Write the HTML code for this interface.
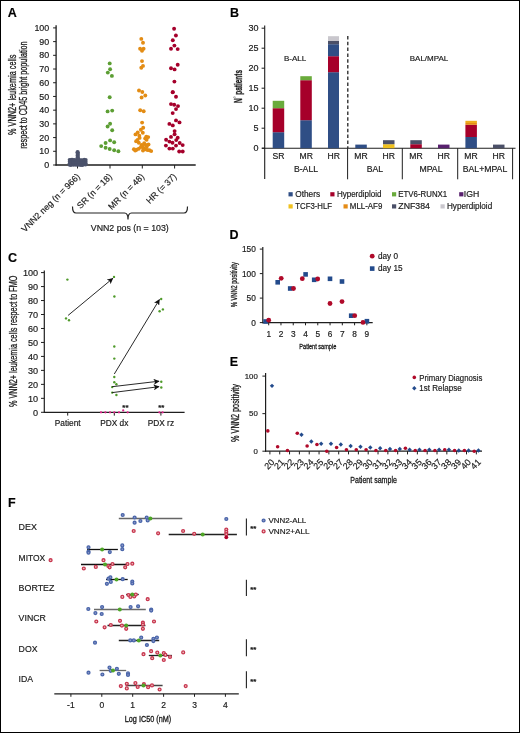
<!DOCTYPE html>
<html><head><meta charset="utf-8"><style>
html,body{margin:0;padding:0;background:#fff;}
body{width:520px;height:733px;overflow:hidden;}
svg{display:block;font-family:"Liberation Sans", sans-serif;will-change:transform;}
text:not([stroke]){stroke:#1a1a1a;stroke-width:0.18px;}
</style></head><body>
<svg width="520" height="733" viewBox="0 0 520 733" fill="#1a1a1a">
<rect x="0.5" y="0.5" width="519" height="732" fill="#fff" stroke="#000" stroke-width="1"/>
<text x="7.7" y="16.8" font-size="12.5" font-weight="bold" fill="#000">A</text>
<text x="230" y="17" font-size="12.5" font-weight="bold" fill="#000">B</text>
<text x="8" y="261.6" font-size="12.5" font-weight="bold" fill="#000">C</text>
<text x="229.4" y="238.7" font-size="12.5" font-weight="bold" fill="#000">D</text>
<text x="229.7" y="365.7" font-size="12.5" font-weight="bold" fill="#000">E</text>
<text x="8" y="507" font-size="12.5" font-weight="bold" fill="#000">F</text>
<line x1="56.1" y1="25.2" x2="56.1" y2="165.6" stroke="#1e1e1e" stroke-width="1.3" />
<line x1="55.5" y1="165" x2="195.7" y2="165" stroke="#1e1e1e" stroke-width="1.3" />
<line x1="53.1" y1="165.0" x2="56.1" y2="165.0" stroke="#1e1e1e" stroke-width="1" />
<text x="49.2" y="168.1" font-size="8.9" text-anchor="end">0</text>
<line x1="53.1" y1="151.29" x2="56.1" y2="151.29" stroke="#1e1e1e" stroke-width="1" />
<text x="49.2" y="154.39" font-size="8.9" text-anchor="end">10</text>
<line x1="53.1" y1="137.58" x2="56.1" y2="137.58" stroke="#1e1e1e" stroke-width="1" />
<text x="49.2" y="140.68" font-size="8.9" text-anchor="end">20</text>
<line x1="53.1" y1="123.87" x2="56.1" y2="123.87" stroke="#1e1e1e" stroke-width="1" />
<text x="49.2" y="126.97" font-size="8.9" text-anchor="end">30</text>
<line x1="53.1" y1="110.16" x2="56.1" y2="110.16" stroke="#1e1e1e" stroke-width="1" />
<text x="49.2" y="113.26" font-size="8.9" text-anchor="end">40</text>
<line x1="53.1" y1="96.45" x2="56.1" y2="96.45" stroke="#1e1e1e" stroke-width="1" />
<text x="49.2" y="99.55" font-size="8.9" text-anchor="end">50</text>
<line x1="53.1" y1="82.74" x2="56.1" y2="82.74" stroke="#1e1e1e" stroke-width="1" />
<text x="49.2" y="85.84" font-size="8.9" text-anchor="end">60</text>
<line x1="53.1" y1="69.03" x2="56.1" y2="69.03" stroke="#1e1e1e" stroke-width="1" />
<text x="49.2" y="72.13" font-size="8.9" text-anchor="end">70</text>
<line x1="53.1" y1="55.32" x2="56.1" y2="55.32" stroke="#1e1e1e" stroke-width="1" />
<text x="49.2" y="58.42" font-size="8.9" text-anchor="end">80</text>
<line x1="53.1" y1="41.61" x2="56.1" y2="41.61" stroke="#1e1e1e" stroke-width="1" />
<text x="49.2" y="44.71" font-size="8.9" text-anchor="end">90</text>
<line x1="53.1" y1="27.9" x2="56.1" y2="27.9" stroke="#1e1e1e" stroke-width="1" />
<text x="49.2" y="31.0" font-size="8.9" text-anchor="end">100</text>
<line x1="77.5" y1="165" x2="77.5" y2="168.5" stroke="#1e1e1e" stroke-width="1" />
<line x1="110" y1="165" x2="110" y2="168.5" stroke="#1e1e1e" stroke-width="1" />
<line x1="142.3" y1="165" x2="142.3" y2="168.5" stroke="#1e1e1e" stroke-width="1" />
<line x1="174.6" y1="165" x2="174.6" y2="168.5" stroke="#1e1e1e" stroke-width="1" />
<text x="16.3" y="94.8" font-size="10.2" text-anchor="middle" textLength="80.4" lengthAdjust="spacingAndGlyphs" transform="rotate(-90 16.3 94.8)" stroke="#1a1a1a" stroke-width="0.3">% VNN2+ leukemia cells</text>
<text x="27.3" y="95.1" font-size="10" text-anchor="middle" textLength="107.4" lengthAdjust="spacingAndGlyphs" transform="rotate(-90 27.3 95.1)" stroke="#1a1a1a" stroke-width="0.3">respect to CD45 bright population</text>
<text x="80.5" y="177.2" font-size="8.8" text-anchor="end" transform="rotate(-45 80.5 177.2)">VNN2 neg (n = 966)</text>
<text x="112.5" y="177.2" font-size="8.8" text-anchor="end" transform="rotate(-45 112.5 177.2)">SR (n = 18)</text>
<text x="144.8" y="177.2" font-size="8.8" text-anchor="end" transform="rotate(-45 144.8 177.2)">MR (n = 48)</text>
<text x="177" y="177.2" font-size="8.8" text-anchor="end" transform="rotate(-45 177 177.2)">HR (= 37)</text>
<path d="M72.5,206.5 Q72.5,213 76,213 L124.5,213 Q128,213 128,219.5 Q128,213 131.5,213 L184,213 Q187.5,213 187.5,206.5" fill="none" stroke="#222" stroke-width="1.2"/>
<text x="129.8" y="231.2" font-size="8.6" text-anchor="middle" textLength="78" lengthAdjust="spacingAndGlyphs">VNN2 pos (n = 103)</text>
<g fill="#4b526b">
<rect x="69.2" y="159.4" width="17" height="6" />
<circle cx="69.44" cy="159.83" r="1.75" fill="#4b526b" />
<circle cx="69.52" cy="164.97" r="1.75" fill="#4b526b" />
<circle cx="71.28" cy="159.5" r="1.75" fill="#4b526b" />
<circle cx="70.91" cy="165.14" r="1.75" fill="#4b526b" />
<circle cx="72.66" cy="159.61" r="1.75" fill="#4b526b" />
<circle cx="73.1" cy="164.88" r="1.75" fill="#4b526b" />
<circle cx="74.6" cy="159.78" r="1.75" fill="#4b526b" />
<circle cx="74.48" cy="164.66" r="1.75" fill="#4b526b" />
<circle cx="76.08" cy="160.06" r="1.75" fill="#4b526b" />
<circle cx="76.01" cy="165.07" r="1.75" fill="#4b526b" />
<circle cx="77.7" cy="159.49" r="1.75" fill="#4b526b" />
<circle cx="77.75" cy="164.96" r="1.75" fill="#4b526b" />
<circle cx="79.08" cy="159.47" r="1.75" fill="#4b526b" />
<circle cx="79.42" cy="164.88" r="1.75" fill="#4b526b" />
<circle cx="80.93" cy="160.07" r="1.75" fill="#4b526b" />
<circle cx="80.93" cy="165.19" r="1.75" fill="#4b526b" />
<circle cx="82.34" cy="160.01" r="1.75" fill="#4b526b" />
<circle cx="82.37" cy="165.2" r="1.75" fill="#4b526b" />
<circle cx="84.23" cy="159.52" r="1.75" fill="#4b526b" />
<circle cx="83.78" cy="164.7" r="1.75" fill="#4b526b" />
<circle cx="85.88" cy="159.76" r="1.75" fill="#4b526b" />
<circle cx="85.68" cy="164.76" r="1.75" fill="#4b526b" />
<circle cx="69.55" cy="161.6" r="1.75" fill="#4b526b" />
<circle cx="85.79" cy="161.6" r="1.75" fill="#4b526b" />
<circle cx="69.48" cy="163.2" r="1.75" fill="#4b526b" />
<circle cx="85.89" cy="163.2" r="1.75" fill="#4b526b" />
<circle cx="77.64" cy="152.2" r="2.15" fill="#4b526b" />
<circle cx="77.8" cy="154" r="2.15" fill="#4b526b" />
<circle cx="77.69" cy="155.8" r="2.15" fill="#4b526b" />
<circle cx="77.81" cy="157.6" r="2.15" fill="#4b526b" />
</g>
<circle cx="109.7" cy="63.4" r="1.95" fill="#5c9e33" />
<circle cx="110.1" cy="69.3" r="1.95" fill="#5c9e33" />
<circle cx="107.8" cy="72.6" r="1.95" fill="#5c9e33" />
<circle cx="111.9" cy="75.9" r="1.95" fill="#5c9e33" />
<circle cx="109.7" cy="97.2" r="1.95" fill="#5c9e33" />
<circle cx="107.6" cy="111.4" r="1.95" fill="#5c9e33" />
<circle cx="112.2" cy="110.6" r="1.95" fill="#5c9e33" />
<circle cx="110.1" cy="123.7" r="1.95" fill="#5c9e33" />
<circle cx="107.6" cy="126.5" r="1.95" fill="#5c9e33" />
<circle cx="112.2" cy="130.2" r="1.95" fill="#5c9e33" />
<circle cx="110.1" cy="140.4" r="1.95" fill="#5c9e33" />
<circle cx="114.2" cy="142.2" r="1.95" fill="#5c9e33" />
<circle cx="105.6" cy="143" r="1.95" fill="#5c9e33" />
<circle cx="101.2" cy="146.1" r="1.95" fill="#5c9e33" />
<circle cx="105.6" cy="147.7" r="1.95" fill="#5c9e33" />
<circle cx="109.7" cy="149" r="1.95" fill="#5c9e33" />
<circle cx="114.2" cy="150.2" r="1.95" fill="#5c9e33" />
<circle cx="118.4" cy="151.2" r="1.95" fill="#5c9e33" />
<circle cx="141.3" cy="38.9" r="1.95" fill="#e38c14" />
<circle cx="143" cy="42.7" r="1.95" fill="#e38c14" />
<circle cx="140.1" cy="48.7" r="1.95" fill="#e38c14" />
<circle cx="143.6" cy="48.7" r="1.95" fill="#e38c14" />
<circle cx="142" cy="50.8" r="1.95" fill="#e38c14" />
<circle cx="142" cy="61.1" r="1.95" fill="#e38c14" />
<circle cx="143" cy="65.9" r="1.95" fill="#e38c14" />
<circle cx="141.3" cy="67.7" r="1.95" fill="#e38c14" />
<circle cx="139" cy="90.5" r="1.95" fill="#e38c14" />
<circle cx="142.3" cy="92" r="1.95" fill="#e38c14" />
<circle cx="141.6" cy="97.5" r="1.95" fill="#e38c14" />
<circle cx="145.3" cy="95.5" r="1.95" fill="#e38c14" />
<circle cx="140.2" cy="110.3" r="1.95" fill="#e38c14" />
<circle cx="143.7" cy="111.2" r="1.95" fill="#e38c14" />
<circle cx="142.1" cy="122.6" r="1.95" fill="#e38c14" />
<circle cx="143.2" cy="127.7" r="1.95" fill="#e38c14" />
<circle cx="140.9" cy="129.8" r="1.95" fill="#e38c14" />
<circle cx="142.8" cy="132.8" r="1.95" fill="#e38c14" />
<circle cx="137.7" cy="132.5" r="1.95" fill="#e38c14" />
<circle cx="135.5" cy="134.4" r="1.95" fill="#e38c14" />
<circle cx="139.3" cy="135.8" r="1.95" fill="#e38c14" />
<circle cx="139.6" cy="137.9" r="1.95" fill="#e38c14" />
<circle cx="146.3" cy="136.8" r="1.95" fill="#e38c14" />
<circle cx="148.2" cy="137.1" r="1.95" fill="#e38c14" />
<circle cx="145.2" cy="138.5" r="1.95" fill="#e38c14" />
<circle cx="146.6" cy="139.8" r="1.95" fill="#e38c14" />
<circle cx="136.1" cy="141.2" r="1.95" fill="#e38c14" />
<circle cx="138.8" cy="142.8" r="1.95" fill="#e38c14" />
<circle cx="141.5" cy="144.9" r="1.95" fill="#e38c14" />
<circle cx="144.2" cy="143.3" r="1.95" fill="#e38c14" />
<circle cx="145.8" cy="144.9" r="1.95" fill="#e38c14" />
<circle cx="148.5" cy="144.4" r="1.95" fill="#e38c14" />
<circle cx="133.9" cy="149.2" r="1.95" fill="#e38c14" />
<circle cx="136.6" cy="149.8" r="1.95" fill="#e38c14" />
<circle cx="138.8" cy="148.7" r="1.95" fill="#e38c14" />
<circle cx="140.9" cy="147.1" r="1.95" fill="#e38c14" />
<circle cx="143.6" cy="148.2" r="1.95" fill="#e38c14" />
<circle cx="145.2" cy="149.2" r="1.95" fill="#e38c14" />
<circle cx="147.4" cy="150" r="1.95" fill="#e38c14" />
<circle cx="149.5" cy="150.3" r="1.95" fill="#e38c14" />
<circle cx="151.2" cy="151.1" r="1.95" fill="#e38c14" />
<circle cx="146.8" cy="146.5" r="1.95" fill="#e38c14" />
<circle cx="142.5" cy="146" r="1.95" fill="#e38c14" />
<circle cx="137.5" cy="140" r="1.95" fill="#e38c14" />
<circle cx="143" cy="150.5" r="1.95" fill="#e38c14" />
<circle cx="135.2" cy="150.5" r="1.95" fill="#e38c14" />
<circle cx="174.1" cy="28.7" r="1.95" fill="#a5002b" />
<circle cx="175.9" cy="35.5" r="1.95" fill="#a5002b" />
<circle cx="172.8" cy="40.2" r="1.95" fill="#a5002b" />
<circle cx="174.4" cy="45.6" r="1.95" fill="#a5002b" />
<circle cx="171" cy="48.8" r="1.95" fill="#a5002b" />
<circle cx="177.7" cy="49.1" r="1.95" fill="#a5002b" />
<circle cx="177.7" cy="64.7" r="1.95" fill="#a5002b" />
<circle cx="171" cy="68.2" r="1.95" fill="#a5002b" />
<circle cx="174.6" cy="69.4" r="1.95" fill="#a5002b" />
<circle cx="174.4" cy="81.6" r="1.95" fill="#a5002b" />
<circle cx="172.8" cy="92.1" r="1.95" fill="#a5002b" />
<circle cx="172.7" cy="92.2" r="1.95" fill="#a5002b" />
<circle cx="176" cy="96.8" r="1.95" fill="#a5002b" />
<circle cx="171" cy="104.1" r="1.95" fill="#a5002b" />
<circle cx="174.2" cy="104.7" r="1.95" fill="#a5002b" />
<circle cx="178" cy="106.1" r="1.95" fill="#a5002b" />
<circle cx="176" cy="109.1" r="1.95" fill="#a5002b" />
<circle cx="172.7" cy="113.1" r="1.95" fill="#a5002b" />
<circle cx="176" cy="120.4" r="1.95" fill="#a5002b" />
<circle cx="179.5" cy="122.4" r="1.95" fill="#a5002b" />
<circle cx="169.4" cy="123.9" r="1.95" fill="#a5002b" />
<circle cx="172.8" cy="125.4" r="1.95" fill="#a5002b" />
<circle cx="174.6" cy="131.1" r="1.95" fill="#a5002b" />
<circle cx="174.6" cy="134.3" r="1.95" fill="#a5002b" />
<circle cx="171" cy="136.9" r="1.95" fill="#a5002b" />
<circle cx="177.7" cy="137.8" r="1.95" fill="#a5002b" />
<circle cx="166.1" cy="139.8" r="1.95" fill="#a5002b" />
<circle cx="176.2" cy="140.1" r="1.95" fill="#a5002b" />
<circle cx="169.4" cy="141.6" r="1.95" fill="#a5002b" />
<circle cx="172.5" cy="142.7" r="1.95" fill="#a5002b" />
<circle cx="179.7" cy="143" r="1.95" fill="#a5002b" />
<circle cx="182.7" cy="145.1" r="1.95" fill="#a5002b" />
<circle cx="165.9" cy="145.6" r="1.95" fill="#a5002b" />
<circle cx="176" cy="145.6" r="1.95" fill="#a5002b" />
<circle cx="169.4" cy="148.6" r="1.95" fill="#a5002b" />
<circle cx="172.8" cy="148.6" r="1.95" fill="#a5002b" />
<circle cx="179.2" cy="151.5" r="1.95" fill="#a5002b" />
<circle cx="182.7" cy="151.5" r="1.95" fill="#a5002b" />
<line x1="264.7" y1="25.5" x2="264.7" y2="179" stroke="#1e1e1e" stroke-width="1.1" />
<line x1="262" y1="148.2" x2="515.5" y2="148.2" stroke="#1e1e1e" stroke-width="1.1" />
<line x1="261.6" y1="148.2" x2="264.7" y2="148.2" stroke="#1e1e1e" stroke-width="1" />
<text x="258.4" y="151.3" font-size="9" text-anchor="end">0</text>
<line x1="261.6" y1="128.2" x2="264.7" y2="128.2" stroke="#1e1e1e" stroke-width="1" />
<text x="258.4" y="131.3" font-size="9" text-anchor="end">5</text>
<line x1="261.6" y1="108.2" x2="264.7" y2="108.2" stroke="#1e1e1e" stroke-width="1" />
<text x="258.4" y="111.3" font-size="9" text-anchor="end">10</text>
<line x1="261.6" y1="88.2" x2="264.7" y2="88.2" stroke="#1e1e1e" stroke-width="1" />
<text x="258.4" y="91.3" font-size="9" text-anchor="end">15</text>
<line x1="261.6" y1="68.2" x2="264.7" y2="68.2" stroke="#1e1e1e" stroke-width="1" />
<text x="258.4" y="71.3" font-size="9" text-anchor="end">20</text>
<line x1="261.6" y1="48.2" x2="264.7" y2="48.2" stroke="#1e1e1e" stroke-width="1" />
<text x="258.4" y="51.3" font-size="9" text-anchor="end">25</text>
<line x1="261.6" y1="28.2" x2="264.7" y2="28.2" stroke="#1e1e1e" stroke-width="1" />
<text x="258.4" y="31.3" font-size="9" text-anchor="end">30</text>
<line x1="347.8" y1="36" x2="347.8" y2="148" stroke="#222" stroke-width="1.3" stroke-dasharray="3.5,2.3"/>
<line x1="347.6" y1="148.2" x2="347.6" y2="179.3" stroke="#1e1e1e" stroke-width="1" />
<line x1="402.3" y1="148.2" x2="402.3" y2="179.3" stroke="#1e1e1e" stroke-width="1" />
<line x1="457.7" y1="148.2" x2="457.7" y2="179.3" stroke="#1e1e1e" stroke-width="1" />
<line x1="512.6" y1="148.2" x2="512.6" y2="179.3" stroke="#1e1e1e" stroke-width="1" />
<text x="242" y="86.5" font-size="10.2" text-anchor="middle" font-weight="bold" stroke="#1a1a1a" stroke-width="0.3" textLength="33" lengthAdjust="spacingAndGlyphs" transform="rotate(-90 242 86.5)">N<tspan fill="#808080" stroke="none" dy="-3.4" font-size="7.5">°</tspan><tspan dy="3.2"> patients</tspan></text>
<text x="295" y="61" font-size="8" text-anchor="middle">B-ALL</text>
<text x="429" y="61" font-size="8" text-anchor="middle">BAL/MPAL</text>
<rect x="272.7" y="132.2" width="11.5" height="16.0" fill="#2f4e85" />
<rect x="272.7" y="108.2" width="11.5" height="24.0" fill="#a6002a" />
<rect x="272.7" y="100.8" width="11.5" height="7.4" fill="#6aab3c" />
<rect x="300.3" y="120.2" width="11.5" height="28.0" fill="#2f4e85" />
<rect x="300.3" y="80.2" width="11.5" height="40.0" fill="#a6002a" />
<rect x="300.3" y="76.2" width="11.5" height="4.0" fill="#6aab3c" />
<rect x="328" y="72.2" width="11" height="76.0" fill="#2f4e85" />
<rect x="328" y="56.2" width="11" height="16.0" fill="#a6002a" />
<rect x="328" y="44.2" width="11" height="12.0" fill="#2f4e85" />
<rect x="328" y="41.0" width="11" height="3.2" fill="#4b5068" />
<rect x="328" y="36.2" width="11" height="4.8" fill="#c9c7cd" />
<rect x="355.3" y="144.6" width="11.5" height="3.6" fill="#2f4e85" />
<rect x="383" y="144.2" width="11.5" height="4.0" fill="#f0c11e" />
<rect x="383" y="140.2" width="11.5" height="4.0" fill="#4b5068" />
<rect x="410.3" y="144.2" width="11.5" height="4.0" fill="#a6002a" />
<rect x="410.3" y="140.2" width="11.5" height="4.0" fill="#4b5068" />
<rect x="438" y="144.6" width="11.5" height="3.6" fill="#58206e" />
<rect x="465.4" y="137.0" width="11.5" height="11.2" fill="#2f4e85" />
<rect x="465.4" y="124.8" width="11.5" height="12.2" fill="#a6002a" />
<rect x="465.4" y="123.0" width="11.5" height="1.8" fill="#e58c16" />
<rect x="465.4" y="120.8" width="11.5" height="2.2" fill="#eeac1e" />
<rect x="493" y="144.6" width="11.5" height="3.6" fill="#4b5068" />
<text x="278.6" y="158.9" font-size="8.6" text-anchor="middle">SR</text>
<text x="306.2" y="158.9" font-size="8.6" text-anchor="middle">MR</text>
<text x="333.8" y="158.9" font-size="8.6" text-anchor="middle">HR</text>
<text x="361" y="158.9" font-size="8.6" text-anchor="middle">MR</text>
<text x="388.7" y="158.9" font-size="8.6" text-anchor="middle">HR</text>
<text x="416" y="158.9" font-size="8.6" text-anchor="middle">MR</text>
<text x="443.7" y="158.9" font-size="8.6" text-anchor="middle">HR</text>
<text x="471" y="158.9" font-size="8.6" text-anchor="middle">MR</text>
<text x="498.7" y="158.9" font-size="8.6" text-anchor="middle">HR</text>
<text x="306" y="172.2" font-size="8.7" text-anchor="middle">B-ALL</text>
<text x="375" y="172.2" font-size="8.7" text-anchor="middle">BAL</text>
<text x="431" y="172.2" font-size="8.7" text-anchor="middle">MPAL</text>
<text x="485" y="172.2" font-size="8.7" text-anchor="middle">BAL+MPAL</text>
<rect x="288.5" y="192.2" width="4.2" height="4.2" fill="#2f4e85" />
<text x="295.3" y="196.5" font-size="8.2" textLength="24.8" lengthAdjust="spacingAndGlyphs">Others</text>
<rect x="330.3" y="192.2" width="4.2" height="4.2" fill="#a6002a" />
<text x="336.9" y="196.5" font-size="8.2" textLength="44.5" lengthAdjust="spacingAndGlyphs">Hyperdiploid</text>
<rect x="392" y="192.2" width="4.2" height="4.2" fill="#6aab3c" />
<text x="398.3" y="196.5" font-size="8.2" textLength="48.9" lengthAdjust="spacingAndGlyphs">ETV6-RUNX1</text>
<rect x="459.2" y="192.2" width="4.2" height="4.2" fill="#58206e" />
<text x="463.8" y="196.5" font-size="8.2" textLength="15.5" lengthAdjust="spacingAndGlyphs">IGH</text>
<rect x="288.5" y="204.3" width="4.2" height="4.2" fill="#f0c11e" />
<text x="295.3" y="208.6" font-size="8.2" textLength="36.8" lengthAdjust="spacingAndGlyphs">TCF3-HLF</text>
<rect x="343.5" y="204.3" width="4.2" height="4.2" fill="#e58c16" />
<text x="349.8" y="208.6" font-size="8.2" textLength="32.5" lengthAdjust="spacingAndGlyphs">MLL-AF9</text>
<rect x="392" y="204.3" width="4.2" height="4.2" fill="#4b5068" />
<text x="398.3" y="208.6" font-size="8.2" textLength="31.6" lengthAdjust="spacingAndGlyphs">ZNF384</text>
<rect x="440.5" y="204.3" width="4.2" height="4.2" fill="#c9c7cd" />
<text x="447.0" y="208.6" font-size="8.2" textLength="45.2" lengthAdjust="spacingAndGlyphs">Hyperdiploid</text>
<line x1="44.3" y1="270.4" x2="44.3" y2="412.8" stroke="#1e1e1e" stroke-width="1.2" />
<line x1="43.8" y1="412.3" x2="184.6" y2="412.3" stroke="#1e1e1e" stroke-width="1.2" />
<line x1="41" y1="412.3" x2="44.3" y2="412.3" stroke="#1e1e1e" stroke-width="1" />
<text x="38.1" y="415.5" font-size="9.1" text-anchor="end">0</text>
<line x1="41" y1="398.33" x2="44.3" y2="398.33" stroke="#1e1e1e" stroke-width="1" />
<text x="38.1" y="401.53" font-size="9.1" text-anchor="end">10</text>
<line x1="41" y1="384.36" x2="44.3" y2="384.36" stroke="#1e1e1e" stroke-width="1" />
<text x="38.1" y="387.56" font-size="9.1" text-anchor="end">20</text>
<line x1="41" y1="370.39" x2="44.3" y2="370.39" stroke="#1e1e1e" stroke-width="1" />
<text x="38.1" y="373.59" font-size="9.1" text-anchor="end">30</text>
<line x1="41" y1="356.42" x2="44.3" y2="356.42" stroke="#1e1e1e" stroke-width="1" />
<text x="38.1" y="359.62" font-size="9.1" text-anchor="end">40</text>
<line x1="41" y1="342.45" x2="44.3" y2="342.45" stroke="#1e1e1e" stroke-width="1" />
<text x="38.1" y="345.65" font-size="9.1" text-anchor="end">50</text>
<line x1="41" y1="328.48" x2="44.3" y2="328.48" stroke="#1e1e1e" stroke-width="1" />
<text x="38.1" y="331.68" font-size="9.1" text-anchor="end">60</text>
<line x1="41" y1="314.51" x2="44.3" y2="314.51" stroke="#1e1e1e" stroke-width="1" />
<text x="38.1" y="317.71" font-size="9.1" text-anchor="end">70</text>
<line x1="41" y1="300.54" x2="44.3" y2="300.54" stroke="#1e1e1e" stroke-width="1" />
<text x="38.1" y="303.74" font-size="9.1" text-anchor="end">80</text>
<line x1="41" y1="286.57" x2="44.3" y2="286.57" stroke="#1e1e1e" stroke-width="1" />
<text x="38.1" y="289.77" font-size="9.1" text-anchor="end">90</text>
<line x1="41" y1="272.6" x2="44.3" y2="272.6" stroke="#1e1e1e" stroke-width="1" />
<text x="38.1" y="275.8" font-size="9.1" text-anchor="end">100</text>
<line x1="67.7" y1="412.3" x2="67.7" y2="415.6" stroke="#1e1e1e" stroke-width="1" />
<line x1="114.3" y1="412.3" x2="114.3" y2="415.6" stroke="#1e1e1e" stroke-width="1" />
<line x1="160.9" y1="412.3" x2="160.9" y2="415.6" stroke="#1e1e1e" stroke-width="1" />
<text x="17" y="341.3" font-size="11" text-anchor="middle" textLength="131.3" lengthAdjust="spacingAndGlyphs" transform="rotate(-90 17 341.3)" stroke="#1a1a1a" stroke-width="0.3">% VNN2+ leukemia cells respect to FMO</text>
<text x="67.7" y="426.4" font-size="8.3" text-anchor="middle">Patient</text>
<text x="114.3" y="426.4" font-size="8.3" text-anchor="middle">PDX dx</text>
<text x="160.9" y="426.4" font-size="8.3" text-anchor="middle">PDX rz</text>
<circle cx="67.4" cy="279.6" r="1.2" fill="#4f9a2a" />
<circle cx="66" cy="318.4" r="1.2" fill="#4f9a2a" />
<circle cx="69" cy="320.2" r="1.2" fill="#4f9a2a" />
<circle cx="114" cy="276.9" r="1.2" fill="#4f9a2a" />
<circle cx="114.4" cy="296.5" r="1.2" fill="#4f9a2a" />
<circle cx="114.3" cy="346.5" r="1.2" fill="#4f9a2a" />
<circle cx="114.3" cy="358.6" r="1.2" fill="#4f9a2a" />
<circle cx="114.3" cy="377" r="1.2" fill="#4f9a2a" />
<circle cx="114.3" cy="382.3" r="1.2" fill="#4f9a2a" />
<circle cx="116.4" cy="384.2" r="1.2" fill="#4f9a2a" />
<circle cx="112.2" cy="387.1" r="1.2" fill="#4f9a2a" />
<circle cx="112.2" cy="392.6" r="1.2" fill="#4f9a2a" />
<circle cx="116.4" cy="395" r="1.2" fill="#4f9a2a" />
<circle cx="161.2" cy="299" r="1.2" fill="#4f9a2a" />
<circle cx="159.6" cy="311.2" r="1.2" fill="#4f9a2a" />
<circle cx="162.9" cy="309.4" r="1.2" fill="#4f9a2a" />
<circle cx="161.3" cy="381.8" r="1.2" fill="#4f9a2a" />
<circle cx="161.3" cy="387.5" r="1.2" fill="#4f9a2a" />
<circle cx="101" cy="412.3" r="1.1" fill="#e0208a" />
<circle cx="105.4" cy="412.3" r="1.1" fill="#e0208a" />
<circle cx="110" cy="412.3" r="1.1" fill="#e0208a" />
<circle cx="114.3" cy="412.3" r="1.1" fill="#e0208a" />
<circle cx="119" cy="412.3" r="1.1" fill="#e0208a" />
<circle cx="127.7" cy="412.3" r="1.1" fill="#e0208a" />
<circle cx="159.4" cy="412.3" r="1.1" fill="#e0208a" />
<circle cx="162.6" cy="412.3" r="1.1" fill="#e0208a" />
<circle cx="123.2" cy="410.4" r="1.1" fill="#e0208a" />
<text x="125.4" y="409.9" font-size="7.8" text-anchor="middle" font-weight="bold" fill="#111">**</text>
<text x="161.3" y="409.9" font-size="7.8" text-anchor="middle" font-weight="bold" fill="#111">**</text>
<defs><marker id="ah" viewBox="0 0 10 10" refX="9" refY="5" markerWidth="6" markerHeight="6" markerUnits="userSpaceOnUse" orient="auto"><path d="M0,0 L10,5 L0,10 L2.5,5 Z" fill="#111"/></marker></defs>
<line x1="68.1" y1="315.4" x2="112.8" y2="278.4" stroke="#111" stroke-width="0.9" marker-end="url(#ah)"/>
<line x1="114.3" y1="374" x2="159.4" y2="299.6" stroke="#111" stroke-width="0.9" marker-end="url(#ah)"/>
<line x1="112.2" y1="386.7" x2="159" y2="381.2" stroke="#111" stroke-width="0.9" marker-end="url(#ah)"/>
<line x1="112.2" y1="392.6" x2="159" y2="386.7" stroke="#111" stroke-width="0.9" marker-end="url(#ah)"/>
<line x1="262.8" y1="247" x2="262.8" y2="323.2" stroke="#1e1e1e" stroke-width="1.2" />
<line x1="262.2" y1="322.6" x2="372.7" y2="322.6" stroke="#1e1e1e" stroke-width="1.2" />
<line x1="259.8" y1="322.6" x2="262.8" y2="322.6" stroke="#1e1e1e" stroke-width="1" />
<text x="255.8" y="325.5" font-size="8.3" text-anchor="end">0</text>
<line x1="259.8" y1="298.1" x2="262.8" y2="298.1" stroke="#1e1e1e" stroke-width="1" />
<text x="255.8" y="301.0" font-size="8.3" text-anchor="end">50</text>
<line x1="259.8" y1="273.6" x2="262.8" y2="273.6" stroke="#1e1e1e" stroke-width="1" />
<text x="255.8" y="276.5" font-size="8.3" text-anchor="end">100</text>
<line x1="259.8" y1="249.1" x2="262.8" y2="249.1" stroke="#1e1e1e" stroke-width="1" />
<text x="255.8" y="252.0" font-size="8.3" text-anchor="end">150</text>
<line x1="268.7" y1="322.6" x2="268.7" y2="325.3" stroke="#1e1e1e" stroke-width="1" />
<text x="268.7" y="336.5" font-size="8.3" text-anchor="middle">1</text>
<line x1="280.97" y1="322.6" x2="280.97" y2="325.3" stroke="#1e1e1e" stroke-width="1" />
<text x="280.97" y="336.5" font-size="8.3" text-anchor="middle">2</text>
<line x1="293.24" y1="322.6" x2="293.24" y2="325.3" stroke="#1e1e1e" stroke-width="1" />
<text x="293.24" y="336.5" font-size="8.3" text-anchor="middle">3</text>
<line x1="305.51" y1="322.6" x2="305.51" y2="325.3" stroke="#1e1e1e" stroke-width="1" />
<text x="305.51" y="336.5" font-size="8.3" text-anchor="middle">4</text>
<line x1="317.78" y1="322.6" x2="317.78" y2="325.3" stroke="#1e1e1e" stroke-width="1" />
<text x="317.78" y="336.5" font-size="8.3" text-anchor="middle">5</text>
<line x1="330.05" y1="322.6" x2="330.05" y2="325.3" stroke="#1e1e1e" stroke-width="1" />
<text x="330.05" y="336.5" font-size="8.3" text-anchor="middle">6</text>
<line x1="342.32" y1="322.6" x2="342.32" y2="325.3" stroke="#1e1e1e" stroke-width="1" />
<text x="342.32" y="336.5" font-size="8.3" text-anchor="middle">7</text>
<line x1="354.59" y1="322.6" x2="354.59" y2="325.3" stroke="#1e1e1e" stroke-width="1" />
<text x="354.59" y="336.5" font-size="8.3" text-anchor="middle">8</text>
<line x1="366.86" y1="322.6" x2="366.86" y2="325.3" stroke="#1e1e1e" stroke-width="1" />
<text x="366.86" y="336.5" font-size="8.3" text-anchor="middle">9</text>
<text x="236.6" y="284.6" font-size="8.2" text-anchor="middle" textLength="44.7" lengthAdjust="spacingAndGlyphs" transform="rotate(-90 236.6 284.6)" stroke="#1a1a1a" stroke-width="0.3">% VNN2 positivity</text>
<text x="317.8" y="348.7" font-size="7.7" text-anchor="middle" textLength="37" lengthAdjust="spacingAndGlyphs" stroke="#1a1a1a" stroke-width="0.3">Patient sample</text>
<rect x="263.3" y="319.2" width="4.6" height="4.6" fill="#234b8c" />
<rect x="275.4" y="280.0" width="4.6" height="4.6" fill="#234b8c" />
<rect x="287.9" y="286.2" width="4.6" height="4.6" fill="#234b8c" />
<rect x="303.3" y="272.1" width="4.6" height="4.6" fill="#234b8c" />
<rect x="311.9" y="277.5" width="4.6" height="4.6" fill="#234b8c" />
<rect x="327.7" y="276.5" width="4.6" height="4.6" fill="#234b8c" />
<rect x="339.7" y="279.2" width="4.6" height="4.6" fill="#234b8c" />
<rect x="348.9" y="313.4" width="4.6" height="4.6" fill="#234b8c" />
<rect x="364.6" y="318.9" width="4.6" height="4.6" fill="#234b8c" />
<circle cx="268.7" cy="320.2" r="2.4" fill="#b00a2a" />
<circle cx="281.2" cy="278.3" r="2.4" fill="#b00a2a" />
<circle cx="293.5" cy="288.5" r="2.4" fill="#b00a2a" />
<circle cx="302.3" cy="278.7" r="2.4" fill="#b00a2a" />
<circle cx="317.7" cy="279" r="2.4" fill="#b00a2a" />
<circle cx="330" cy="303.5" r="2.4" fill="#b00a2a" />
<circle cx="342" cy="301.6" r="2.4" fill="#b00a2a" />
<circle cx="354.7" cy="315.7" r="2.4" fill="#b00a2a" />
<circle cx="363" cy="322.4" r="2.4" fill="#b00a2a" />
<circle cx="372.2" cy="256.2" r="2.4" fill="#b00a2a" />
<text x="378" y="258.7" font-size="8.2">day 0</text>
<rect x="369.9" y="266.3" width="4.6" height="4.6" fill="#234b8c" />
<text x="378" y="271.3" font-size="8.2">day 15</text>
<line x1="265.6" y1="373" x2="265.6" y2="451.8" stroke="#1e1e1e" stroke-width="1.2" />
<line x1="265" y1="451.2" x2="482" y2="451.2" stroke="#1e1e1e" stroke-width="1.2" />
<line x1="262.4" y1="451.2" x2="265.6" y2="451.2" stroke="#1e1e1e" stroke-width="1" />
<text x="257.8" y="453.9" font-size="7.8" text-anchor="end">0</text>
<line x1="262.4" y1="413.65" x2="265.6" y2="413.65" stroke="#1e1e1e" stroke-width="1" />
<text x="257.8" y="416.35" font-size="7.8" text-anchor="end">50</text>
<line x1="262.4" y1="376.1" x2="265.6" y2="376.1" stroke="#1e1e1e" stroke-width="1" />
<text x="257.8" y="378.8" font-size="7.8" text-anchor="end">100</text>
<line x1="269.9" y1="451.2" x2="269.9" y2="454.4" stroke="#1e1e1e" stroke-width="1" />
<text x="275.0" y="462.8" font-size="9" text-anchor="end" transform="rotate(-45 275.0 462.8)">20</text>
<line x1="279.73" y1="451.2" x2="279.73" y2="454.4" stroke="#1e1e1e" stroke-width="1" />
<text x="284.83" y="462.8" font-size="9" text-anchor="end" transform="rotate(-45 284.83 462.8)">21</text>
<line x1="289.56" y1="451.2" x2="289.56" y2="454.4" stroke="#1e1e1e" stroke-width="1" />
<text x="294.66" y="462.8" font-size="9" text-anchor="end" transform="rotate(-45 294.66 462.8)">22</text>
<line x1="299.39" y1="451.2" x2="299.39" y2="454.4" stroke="#1e1e1e" stroke-width="1" />
<text x="304.49" y="462.8" font-size="9" text-anchor="end" transform="rotate(-45 304.49 462.8)">23</text>
<line x1="309.22" y1="451.2" x2="309.22" y2="454.4" stroke="#1e1e1e" stroke-width="1" />
<text x="314.32" y="462.8" font-size="9" text-anchor="end" transform="rotate(-45 314.32 462.8)">24</text>
<line x1="319.05" y1="451.2" x2="319.05" y2="454.4" stroke="#1e1e1e" stroke-width="1" />
<text x="324.15" y="462.8" font-size="9" text-anchor="end" transform="rotate(-45 324.15 462.8)">25</text>
<line x1="328.88" y1="451.2" x2="328.88" y2="454.4" stroke="#1e1e1e" stroke-width="1" />
<text x="333.98" y="462.8" font-size="9" text-anchor="end" transform="rotate(-45 333.98 462.8)">26</text>
<line x1="338.71" y1="451.2" x2="338.71" y2="454.4" stroke="#1e1e1e" stroke-width="1" />
<text x="343.81" y="462.8" font-size="9" text-anchor="end" transform="rotate(-45 343.81 462.8)">27</text>
<line x1="348.54" y1="451.2" x2="348.54" y2="454.4" stroke="#1e1e1e" stroke-width="1" />
<text x="353.64" y="462.8" font-size="9" text-anchor="end" transform="rotate(-45 353.64 462.8)">28</text>
<line x1="358.37" y1="451.2" x2="358.37" y2="454.4" stroke="#1e1e1e" stroke-width="1" />
<text x="363.47" y="462.8" font-size="9" text-anchor="end" transform="rotate(-45 363.47 462.8)">29</text>
<line x1="368.2" y1="451.2" x2="368.2" y2="454.4" stroke="#1e1e1e" stroke-width="1" />
<text x="373.3" y="462.8" font-size="9" text-anchor="end" transform="rotate(-45 373.3 462.8)">30</text>
<line x1="378.03" y1="451.2" x2="378.03" y2="454.4" stroke="#1e1e1e" stroke-width="1" />
<text x="383.13" y="462.8" font-size="9" text-anchor="end" transform="rotate(-45 383.13 462.8)">31</text>
<line x1="387.86" y1="451.2" x2="387.86" y2="454.4" stroke="#1e1e1e" stroke-width="1" />
<text x="392.96" y="462.8" font-size="9" text-anchor="end" transform="rotate(-45 392.96 462.8)">32</text>
<line x1="397.69" y1="451.2" x2="397.69" y2="454.4" stroke="#1e1e1e" stroke-width="1" />
<text x="402.79" y="462.8" font-size="9" text-anchor="end" transform="rotate(-45 402.79 462.8)">33</text>
<line x1="407.52" y1="451.2" x2="407.52" y2="454.4" stroke="#1e1e1e" stroke-width="1" />
<text x="412.62" y="462.8" font-size="9" text-anchor="end" transform="rotate(-45 412.62 462.8)">34</text>
<line x1="417.35" y1="451.2" x2="417.35" y2="454.4" stroke="#1e1e1e" stroke-width="1" />
<text x="422.45" y="462.8" font-size="9" text-anchor="end" transform="rotate(-45 422.45 462.8)">35</text>
<line x1="427.18" y1="451.2" x2="427.18" y2="454.4" stroke="#1e1e1e" stroke-width="1" />
<text x="432.28" y="462.8" font-size="9" text-anchor="end" transform="rotate(-45 432.28 462.8)">36</text>
<line x1="437.01" y1="451.2" x2="437.01" y2="454.4" stroke="#1e1e1e" stroke-width="1" />
<text x="442.11" y="462.8" font-size="9" text-anchor="end" transform="rotate(-45 442.11 462.8)">37</text>
<line x1="446.84" y1="451.2" x2="446.84" y2="454.4" stroke="#1e1e1e" stroke-width="1" />
<text x="451.94" y="462.8" font-size="9" text-anchor="end" transform="rotate(-45 451.94 462.8)">38</text>
<line x1="456.67" y1="451.2" x2="456.67" y2="454.4" stroke="#1e1e1e" stroke-width="1" />
<text x="461.77" y="462.8" font-size="9" text-anchor="end" transform="rotate(-45 461.77 462.8)">39</text>
<line x1="466.5" y1="451.2" x2="466.5" y2="454.4" stroke="#1e1e1e" stroke-width="1" />
<text x="471.6" y="462.8" font-size="9" text-anchor="end" transform="rotate(-45 471.6 462.8)">40</text>
<line x1="476.33" y1="451.2" x2="476.33" y2="454.4" stroke="#1e1e1e" stroke-width="1" />
<text x="481.43" y="462.8" font-size="9" text-anchor="end" transform="rotate(-45 481.43 462.8)">41</text>
<text x="239" y="413" font-size="10.2" text-anchor="middle" textLength="58" lengthAdjust="spacingAndGlyphs" transform="rotate(-90 239 413)" stroke="#1a1a1a" stroke-width="0.3">% VNN2 positivity</text>
<text x="373.6" y="482.9" font-size="8.9" text-anchor="middle" textLength="46.6" lengthAdjust="spacingAndGlyphs" stroke="#1a1a1a" stroke-width="0.3">Patient sample</text>
<circle cx="267.8" cy="430.92" r="1.8" fill="#b00a2a" />
<path d="M272.0,383.66 L274.2,385.86 L272.0,388.06 L269.8,385.86 Z" fill="#234b8c"/>
<circle cx="277.63" cy="446.69" r="1.8" fill="#b00a2a" />
<circle cx="287.46" cy="450.45" r="1.8" fill="#b00a2a" />
<circle cx="297.29" cy="433.18" r="1.8" fill="#b00a2a" />
<path d="M301.49,432.48 L303.69,434.68 L301.49,436.88 L299.29,434.68 Z" fill="#234b8c"/>
<circle cx="307.12" cy="445.94" r="1.8" fill="#b00a2a" />
<path d="M311.32,439.24 L313.52,441.44 L311.32,443.64 L309.12,441.44 Z" fill="#234b8c"/>
<circle cx="316.95" cy="444.44" r="1.8" fill="#b00a2a" />
<path d="M321.15,441.49 L323.35,443.69 L321.15,445.89 L318.95,443.69 Z" fill="#234b8c"/>
<circle cx="326.78" cy="451.2" r="1.8" fill="#b00a2a" />
<path d="M330.98,441.49 L333.18,443.69 L330.98,445.89 L328.78,443.69 Z" fill="#234b8c"/>
<circle cx="336.61" cy="447.44" r="1.8" fill="#b00a2a" />
<path d="M340.81,442.24 L343.01,444.44 L340.81,446.64 L338.61,444.44 Z" fill="#234b8c"/>
<circle cx="346.44" cy="449.7" r="1.8" fill="#b00a2a" />
<path d="M350.64,443.74 L352.84,445.94 L350.64,448.14 L348.44,445.94 Z" fill="#234b8c"/>
<circle cx="356.27" cy="449.7" r="1.8" fill="#b00a2a" />
<path d="M360.47,444.49 L362.67,446.69 L360.47,448.89 L358.27,446.69 Z" fill="#234b8c"/>
<circle cx="366.1" cy="449.7" r="1.8" fill="#b00a2a" />
<path d="M370.3,445.24 L372.5,447.44 L370.3,449.64 L368.1,447.44 Z" fill="#234b8c"/>
<circle cx="375.93" cy="450.45" r="1.8" fill="#b00a2a" />
<path d="M380.13,446.0 L382.33,448.2 L380.13,450.4 L377.93,448.2 Z" fill="#234b8c"/>
<circle cx="385.76" cy="450.45" r="1.8" fill="#b00a2a" />
<path d="M389.96,446.75 L392.16,448.95 L389.96,451.15 L387.76,448.95 Z" fill="#234b8c"/>
<circle cx="395.59" cy="450.45" r="1.8" fill="#b00a2a" />
<path d="M399.79,446.75 L401.99,448.95 L399.79,451.15 L397.59,448.95 Z" fill="#234b8c"/>
<circle cx="405.42" cy="448.2" r="1.8" fill="#b00a2a" />
<path d="M409.62,447.5 L411.82,449.7 L409.62,451.9 L407.42,449.7 Z" fill="#234b8c"/>
<circle cx="415.25" cy="450.45" r="1.8" fill="#b00a2a" />
<path d="M419.45,447.5 L421.65,449.7 L419.45,451.9 L417.25,449.7 Z" fill="#234b8c"/>
<circle cx="425.08" cy="450.45" r="1.8" fill="#b00a2a" />
<path d="M429.28,447.5 L431.48,449.7 L429.28,451.9 L427.08,449.7 Z" fill="#234b8c"/>
<circle cx="434.91" cy="450.45" r="1.8" fill="#b00a2a" />
<path d="M439.11,447.5 L441.31,449.7 L439.11,451.9 L436.91,449.7 Z" fill="#234b8c"/>
<circle cx="444.74" cy="449.7" r="1.8" fill="#b00a2a" />
<path d="M448.94,447.5 L451.14,449.7 L448.94,451.9 L446.74,449.7 Z" fill="#234b8c"/>
<circle cx="454.57" cy="450.45" r="1.8" fill="#b00a2a" />
<path d="M458.77,448.25 L460.97,450.45 L458.77,452.65 L456.57,450.45 Z" fill="#234b8c"/>
<circle cx="464.4" cy="450.45" r="1.8" fill="#b00a2a" />
<path d="M468.6,448.25 L470.8,450.45 L468.6,452.65 L466.4,450.45 Z" fill="#234b8c"/>
<circle cx="474.23" cy="451.2" r="1.8" fill="#b00a2a" />
<path d="M478.43,448.25 L480.63,450.45 L478.43,452.65 L476.23,450.45 Z" fill="#234b8c"/>
<circle cx="414.3" cy="377.4" r="1.8" fill="#b00a2a" />
<text x="419.3" y="380.7" font-size="8.3" textLength="63" lengthAdjust="spacingAndGlyphs">Primary Diagnosis</text>
<path d="M414.3,386 L416.5,388.2 L414.3,390.4 L412.1,388.2 Z" fill="#234b8c"/>
<text x="419.3" y="391.2" font-size="8.3" textLength="42.3" lengthAdjust="spacingAndGlyphs">1st Relapse</text>
<line x1="54.3" y1="693.9" x2="238.8" y2="693.9" stroke="#1e1e1e" stroke-width="1.2" />
<line x1="70.9" y1="693.9" x2="70.9" y2="696.8" stroke="#1e1e1e" stroke-width="1" />
<text x="70.9" y="707.7" font-size="8.5" text-anchor="middle">-1</text>
<line x1="101.8" y1="693.9" x2="101.8" y2="696.8" stroke="#1e1e1e" stroke-width="1" />
<text x="101.8" y="707.7" font-size="8.5" text-anchor="middle">0</text>
<line x1="132.7" y1="693.9" x2="132.7" y2="696.8" stroke="#1e1e1e" stroke-width="1" />
<text x="132.7" y="707.7" font-size="8.5" text-anchor="middle">1</text>
<line x1="163.6" y1="693.9" x2="163.6" y2="696.8" stroke="#1e1e1e" stroke-width="1" />
<text x="163.6" y="707.7" font-size="8.5" text-anchor="middle">2</text>
<line x1="194.5" y1="693.9" x2="194.5" y2="696.8" stroke="#1e1e1e" stroke-width="1" />
<text x="194.5" y="707.7" font-size="8.5" text-anchor="middle">3</text>
<line x1="225.4" y1="693.9" x2="225.4" y2="696.8" stroke="#1e1e1e" stroke-width="1" />
<text x="225.4" y="707.7" font-size="8.5" text-anchor="middle">4</text>
<text x="148" y="722.1" font-size="9.9" text-anchor="middle" textLength="46.5" lengthAdjust="spacingAndGlyphs" stroke="#1a1a1a" stroke-width="0.35">Log IC50 (nM)</text>
<text x="18.6" y="530" font-size="9" textLength="18.3" lengthAdjust="spacingAndGlyphs">DEX</text>
<text x="18.6" y="560.5" font-size="9" textLength="26.6" lengthAdjust="spacingAndGlyphs">MITOX</text>
<text x="18.6" y="591.25" font-size="9" textLength="35.8" lengthAdjust="spacingAndGlyphs">BORTEZ</text>
<text x="18.6" y="621.2" font-size="9" textLength="27.3" lengthAdjust="spacingAndGlyphs">VINCR</text>
<text x="18.6" y="651.5" font-size="9" textLength="18.9" lengthAdjust="spacingAndGlyphs">DOX</text>
<text x="18.6" y="681.7" font-size="9" textLength="14.5" lengthAdjust="spacingAndGlyphs">IDA</text>
<line x1="118.8" y1="518.5" x2="182.3" y2="518.5" stroke="#666" stroke-width="1.3" />
<circle cx="122.7" cy="515" r="1.45" fill="#8f99c8" stroke="#4a66aa" stroke-width="1.3"/>
<circle cx="134.6" cy="517.5" r="1.45" fill="#8f99c8" stroke="#4a66aa" stroke-width="1.3"/>
<circle cx="134.6" cy="522.7" r="1.45" fill="#8f99c8" stroke="#4a66aa" stroke-width="1.3"/>
<circle cx="140.4" cy="521" r="1.45" fill="#8f99c8" stroke="#4a66aa" stroke-width="1.3"/>
<circle cx="146.7" cy="517.5" r="1.45" fill="#8f99c8" stroke="#4a66aa" stroke-width="1.3"/>
<circle cx="147.7" cy="520.4" r="1.45" fill="#8f99c8" stroke="#4a66aa" stroke-width="1.3"/>
<circle cx="226.3" cy="519" r="1.45" fill="#8f99c8" stroke="#4a66aa" stroke-width="1.3"/>
<circle cx="150.4" cy="518.5" r="2.0" fill="#4ea626" />
<line x1="168.7" y1="534.5" x2="236.9" y2="534.5" stroke="#222" stroke-width="1.3" />
<circle cx="133.7" cy="531" r="1.45" fill="#ecc8c0" stroke="#c83650" stroke-width="1.3"/>
<circle cx="158.1" cy="533.3" r="1.45" fill="#ecc8c0" stroke="#c83650" stroke-width="1.3"/>
<circle cx="183.1" cy="531" r="1.45" fill="#ecc8c0" stroke="#c83650" stroke-width="1.3"/>
<circle cx="194.2" cy="533.8" r="1.45" fill="#ecc8c0" stroke="#c83650" stroke-width="1.3"/>
<circle cx="226.3" cy="529.6" r="1.45" fill="#ecc8c0" stroke="#c83650" stroke-width="1.3"/>
<circle cx="226.3" cy="531.9" r="1.45" fill="#ecc8c0" stroke="#c83650" stroke-width="1.3"/>
<circle cx="226.3" cy="534.2" r="1.45" fill="#ecc8c0" stroke="#c83650" stroke-width="1.3"/>
<circle cx="202.7" cy="534.5" r="2.0" fill="#4ea626" />
<line x1="87.1" y1="549.5" x2="117.9" y2="549.5" stroke="#111" stroke-width="1.3" />
<circle cx="88.5" cy="547.3" r="1.45" fill="#8f99c8" stroke="#4a66aa" stroke-width="1.3"/>
<circle cx="88.5" cy="551.5" r="1.45" fill="#8f99c8" stroke="#4a66aa" stroke-width="1.3"/>
<circle cx="88.5" cy="552.7" r="1.45" fill="#8f99c8" stroke="#4a66aa" stroke-width="1.3"/>
<circle cx="109.8" cy="552.1" r="1.45" fill="#8f99c8" stroke="#4a66aa" stroke-width="1.3"/>
<circle cx="122.3" cy="545.4" r="1.45" fill="#8f99c8" stroke="#4a66aa" stroke-width="1.3"/>
<circle cx="122.3" cy="549.2" r="1.45" fill="#8f99c8" stroke="#4a66aa" stroke-width="1.3"/>
<circle cx="102.1" cy="549.5" r="2.0" fill="#4ea626" />
<line x1="81" y1="564.5" x2="128.8" y2="564.5" stroke="#111" stroke-width="1.3" />
<circle cx="50.6" cy="560.2" r="1.45" fill="#ecc8c0" stroke="#c83650" stroke-width="1.3"/>
<circle cx="83.8" cy="568.5" r="1.45" fill="#ecc8c0" stroke="#c83650" stroke-width="1.3"/>
<circle cx="95.8" cy="566.9" r="1.45" fill="#ecc8c0" stroke="#c83650" stroke-width="1.3"/>
<circle cx="103.5" cy="560.2" r="1.45" fill="#ecc8c0" stroke="#c83650" stroke-width="1.3"/>
<circle cx="108.3" cy="566" r="1.45" fill="#ecc8c0" stroke="#c83650" stroke-width="1.3"/>
<circle cx="109.6" cy="567.3" r="1.45" fill="#ecc8c0" stroke="#c83650" stroke-width="1.3"/>
<circle cx="112.5" cy="564" r="1.45" fill="#ecc8c0" stroke="#c83650" stroke-width="1.3"/>
<circle cx="125.2" cy="567.3" r="1.45" fill="#ecc8c0" stroke="#c83650" stroke-width="1.3"/>
<circle cx="127.5" cy="564" r="1.45" fill="#ecc8c0" stroke="#c83650" stroke-width="1.3"/>
<circle cx="132.3" cy="563.7" r="1.45" fill="#ecc8c0" stroke="#c83650" stroke-width="1.3"/>
<circle cx="105" cy="564.5" r="2.0" fill="#4ea626" />
<line x1="106" y1="579.5" x2="127.7" y2="579.5" stroke="#111" stroke-width="1.3" />
<circle cx="106.9" cy="583.8" r="1.45" fill="#8f99c8" stroke="#4a66aa" stroke-width="1.3"/>
<circle cx="108.5" cy="578.7" r="1.45" fill="#8f99c8" stroke="#4a66aa" stroke-width="1.3"/>
<circle cx="110.4" cy="577.3" r="1.45" fill="#8f99c8" stroke="#4a66aa" stroke-width="1.3"/>
<circle cx="110.8" cy="581.9" r="1.45" fill="#8f99c8" stroke="#4a66aa" stroke-width="1.3"/>
<circle cx="122.7" cy="579.2" r="1.45" fill="#8f99c8" stroke="#4a66aa" stroke-width="1.3"/>
<circle cx="132.3" cy="581.5" r="1.45" fill="#8f99c8" stroke="#4a66aa" stroke-width="1.3"/>
<circle cx="132.3" cy="583.5" r="1.45" fill="#8f99c8" stroke="#4a66aa" stroke-width="1.3"/>
<circle cx="116.5" cy="579.5" r="2.0" fill="#4ea626" />
<line x1="126.2" y1="594.5" x2="138.7" y2="594.5" stroke="#111" stroke-width="1.3" />
<circle cx="122.3" cy="596.9" r="1.45" fill="#ecc8c0" stroke="#c83650" stroke-width="1.3"/>
<circle cx="128.5" cy="595" r="1.45" fill="#ecc8c0" stroke="#c83650" stroke-width="1.3"/>
<circle cx="130.4" cy="596.9" r="1.45" fill="#ecc8c0" stroke="#c83650" stroke-width="1.3"/>
<circle cx="134.2" cy="596.5" r="1.45" fill="#ecc8c0" stroke="#c83650" stroke-width="1.3"/>
<circle cx="135.8" cy="594.6" r="1.45" fill="#ecc8c0" stroke="#c83650" stroke-width="1.3"/>
<circle cx="147.7" cy="599.2" r="1.45" fill="#ecc8c0" stroke="#c83650" stroke-width="1.3"/>
<circle cx="132.3" cy="594.5" r="2.0" fill="#4ea626" />
<line x1="94" y1="609.5" x2="145.8" y2="609.5" stroke="#6a6a6a" stroke-width="1.3" />
<circle cx="88.3" cy="609" r="1.45" fill="#8f99c8" stroke="#4a66aa" stroke-width="1.3"/>
<circle cx="95.4" cy="613.1" r="1.45" fill="#8f99c8" stroke="#4a66aa" stroke-width="1.3"/>
<circle cx="101.7" cy="614" r="1.45" fill="#8f99c8" stroke="#4a66aa" stroke-width="1.3"/>
<circle cx="102.1" cy="607.1" r="1.45" fill="#8f99c8" stroke="#4a66aa" stroke-width="1.3"/>
<circle cx="130.6" cy="607.1" r="1.45" fill="#8f99c8" stroke="#4a66aa" stroke-width="1.3"/>
<circle cx="138.1" cy="606.3" r="1.45" fill="#8f99c8" stroke="#4a66aa" stroke-width="1.3"/>
<circle cx="151.2" cy="609.6" r="1.45" fill="#8f99c8" stroke="#4a66aa" stroke-width="1.3"/>
<circle cx="151.2" cy="610.6" r="1.45" fill="#8f99c8" stroke="#4a66aa" stroke-width="1.3"/>
<circle cx="119.8" cy="609.5" r="2.0" fill="#4ea626" />
<line x1="107.5" y1="625.5" x2="145.4" y2="625.5" stroke="#222" stroke-width="1.3" />
<circle cx="96.3" cy="621.5" r="1.45" fill="#ecc8c0" stroke="#c83650" stroke-width="1.3"/>
<circle cx="104.6" cy="627.3" r="1.45" fill="#ecc8c0" stroke="#c83650" stroke-width="1.3"/>
<circle cx="110.8" cy="625" r="1.45" fill="#ecc8c0" stroke="#c83650" stroke-width="1.3"/>
<circle cx="120" cy="620.8" r="1.45" fill="#ecc8c0" stroke="#c83650" stroke-width="1.3"/>
<circle cx="121.9" cy="625.6" r="1.45" fill="#ecc8c0" stroke="#c83650" stroke-width="1.3"/>
<circle cx="126.2" cy="628.8" r="1.45" fill="#ecc8c0" stroke="#c83650" stroke-width="1.3"/>
<circle cx="142.9" cy="622.7" r="1.45" fill="#ecc8c0" stroke="#c83650" stroke-width="1.3"/>
<circle cx="142.9" cy="624.6" r="1.45" fill="#ecc8c0" stroke="#c83650" stroke-width="1.3"/>
<circle cx="142.9" cy="628.8" r="1.45" fill="#ecc8c0" stroke="#c83650" stroke-width="1.3"/>
<circle cx="154" cy="621.5" r="1.45" fill="#ecc8c0" stroke="#c83650" stroke-width="1.3"/>
<circle cx="126.2" cy="625.5" r="2.0" fill="#4ea626" />
<line x1="118.8" y1="640.5" x2="159.2" y2="640.5" stroke="#222" stroke-width="1.3" />
<circle cx="95" cy="642.7" r="1.45" fill="#8f99c8" stroke="#4a66aa" stroke-width="1.3"/>
<circle cx="130.3" cy="640.4" r="1.45" fill="#8f99c8" stroke="#4a66aa" stroke-width="1.3"/>
<circle cx="133.8" cy="640.4" r="1.45" fill="#8f99c8" stroke="#4a66aa" stroke-width="1.3"/>
<circle cx="141.2" cy="637.6" r="1.45" fill="#8f99c8" stroke="#4a66aa" stroke-width="1.3"/>
<circle cx="146.9" cy="645" r="1.45" fill="#8f99c8" stroke="#4a66aa" stroke-width="1.3"/>
<circle cx="153.4" cy="638.8" r="1.45" fill="#8f99c8" stroke="#4a66aa" stroke-width="1.3"/>
<circle cx="153.4" cy="641.1" r="1.45" fill="#8f99c8" stroke="#4a66aa" stroke-width="1.3"/>
<circle cx="156.9" cy="637.6" r="1.45" fill="#8f99c8" stroke="#4a66aa" stroke-width="1.3"/>
<circle cx="138.8" cy="640.5" r="2.0" fill="#4ea626" />
<line x1="148.8" y1="655.5" x2="171.9" y2="655.5" stroke="#222" stroke-width="1.3" />
<circle cx="143.5" cy="654.2" r="1.45" fill="#ecc8c0" stroke="#c83650" stroke-width="1.3"/>
<circle cx="151.1" cy="651.2" r="1.45" fill="#ecc8c0" stroke="#c83650" stroke-width="1.3"/>
<circle cx="152.2" cy="658.2" r="1.45" fill="#ecc8c0" stroke="#c83650" stroke-width="1.3"/>
<circle cx="157.3" cy="652.6" r="1.45" fill="#ecc8c0" stroke="#c83650" stroke-width="1.3"/>
<circle cx="163.8" cy="653.1" r="1.45" fill="#ecc8c0" stroke="#c83650" stroke-width="1.3"/>
<circle cx="163.8" cy="660" r="1.45" fill="#ecc8c0" stroke="#c83650" stroke-width="1.3"/>
<circle cx="165.4" cy="654.9" r="1.45" fill="#ecc8c0" stroke="#c83650" stroke-width="1.3"/>
<circle cx="170" cy="657" r="1.45" fill="#ecc8c0" stroke="#c83650" stroke-width="1.3"/>
<circle cx="183.2" cy="652.4" r="1.45" fill="#ecc8c0" stroke="#c83650" stroke-width="1.3"/>
<circle cx="160.3" cy="655.5" r="2.0" fill="#4ea626" />
<line x1="99.6" y1="670.5" x2="126.2" y2="670.5" stroke="#666" stroke-width="1.3" />
<circle cx="88.5" cy="672.7" r="1.45" fill="#8f99c8" stroke="#4a66aa" stroke-width="1.3"/>
<circle cx="102.4" cy="674.5" r="1.45" fill="#8f99c8" stroke="#4a66aa" stroke-width="1.3"/>
<circle cx="109.5" cy="667.6" r="1.45" fill="#8f99c8" stroke="#4a66aa" stroke-width="1.3"/>
<circle cx="110.7" cy="670.8" r="1.45" fill="#8f99c8" stroke="#4a66aa" stroke-width="1.3"/>
<circle cx="116.9" cy="668.8" r="1.45" fill="#8f99c8" stroke="#4a66aa" stroke-width="1.3"/>
<circle cx="118.8" cy="673.8" r="1.45" fill="#8f99c8" stroke="#4a66aa" stroke-width="1.3"/>
<circle cx="128" cy="673.4" r="1.45" fill="#8f99c8" stroke="#4a66aa" stroke-width="1.3"/>
<circle cx="128" cy="675" r="1.45" fill="#8f99c8" stroke="#4a66aa" stroke-width="1.3"/>
<circle cx="113" cy="670.5" r="2.0" fill="#4ea626" />
<line x1="125.7" y1="685.5" x2="162.6" y2="685.5" stroke="#444" stroke-width="1.3" />
<circle cx="120.8" cy="686.1" r="1.45" fill="#ecc8c0" stroke="#c83650" stroke-width="1.3"/>
<circle cx="126.8" cy="683.8" r="1.45" fill="#ecc8c0" stroke="#c83650" stroke-width="1.3"/>
<circle cx="126.8" cy="688.4" r="1.45" fill="#ecc8c0" stroke="#c83650" stroke-width="1.3"/>
<circle cx="135.4" cy="683.1" r="1.45" fill="#ecc8c0" stroke="#c83650" stroke-width="1.3"/>
<circle cx="137.7" cy="687" r="1.45" fill="#ecc8c0" stroke="#c83650" stroke-width="1.3"/>
<circle cx="143.9" cy="684.2" r="1.45" fill="#ecc8c0" stroke="#c83650" stroke-width="1.3"/>
<circle cx="148.1" cy="687.2" r="1.45" fill="#ecc8c0" stroke="#c83650" stroke-width="1.3"/>
<circle cx="152" cy="685.4" r="1.45" fill="#ecc8c0" stroke="#c83650" stroke-width="1.3"/>
<circle cx="159.6" cy="689.5" r="1.45" fill="#ecc8c0" stroke="#c83650" stroke-width="1.3"/>
<circle cx="185.7" cy="686.1" r="1.45" fill="#ecc8c0" stroke="#c83650" stroke-width="1.3"/>
<circle cx="143.5" cy="685.5" r="2.0" fill="#4ea626" />
<circle cx="226.3" cy="537.3" r="1.9" fill="#b0002a" />
<line x1="246.4" y1="518.6" x2="246.4" y2="535.5" stroke="#222" stroke-width="1.1" />
<text x="253.2" y="530.95" font-size="7.8" text-anchor="middle" font-weight="bold" fill="#111">**</text>
<line x1="246.4" y1="579.7" x2="246.4" y2="596" stroke="#222" stroke-width="1.1" />
<text x="253.2" y="591.75" font-size="7.8" text-anchor="middle" font-weight="bold" fill="#111">**</text>
<line x1="246.4" y1="639.2" x2="246.4" y2="656.3" stroke="#222" stroke-width="1.1" />
<text x="253.2" y="651.65" font-size="7.8" text-anchor="middle" font-weight="bold" fill="#111">**</text>
<line x1="246.4" y1="671.3" x2="246.4" y2="688.3" stroke="#222" stroke-width="1.1" />
<text x="253.2" y="683.7" font-size="7.8" text-anchor="middle" font-weight="bold" fill="#111">**</text>
<circle cx="263.6" cy="520.5" r="1.45" fill="#8f99c8" stroke="#4a66aa" stroke-width="1.3"/>
<text x="268.4" y="523.2" font-size="7.8" textLength="37.9" lengthAdjust="spacingAndGlyphs">VNN2-ALL</text>
<circle cx="263.6" cy="531.4" r="1.45" fill="#ecc8c0" stroke="#c83650" stroke-width="1.3"/>
<text x="268.4" y="534.1" font-size="7.8" textLength="41.1" lengthAdjust="spacingAndGlyphs">VNN2+ALL</text>
</svg>
</body></html>
